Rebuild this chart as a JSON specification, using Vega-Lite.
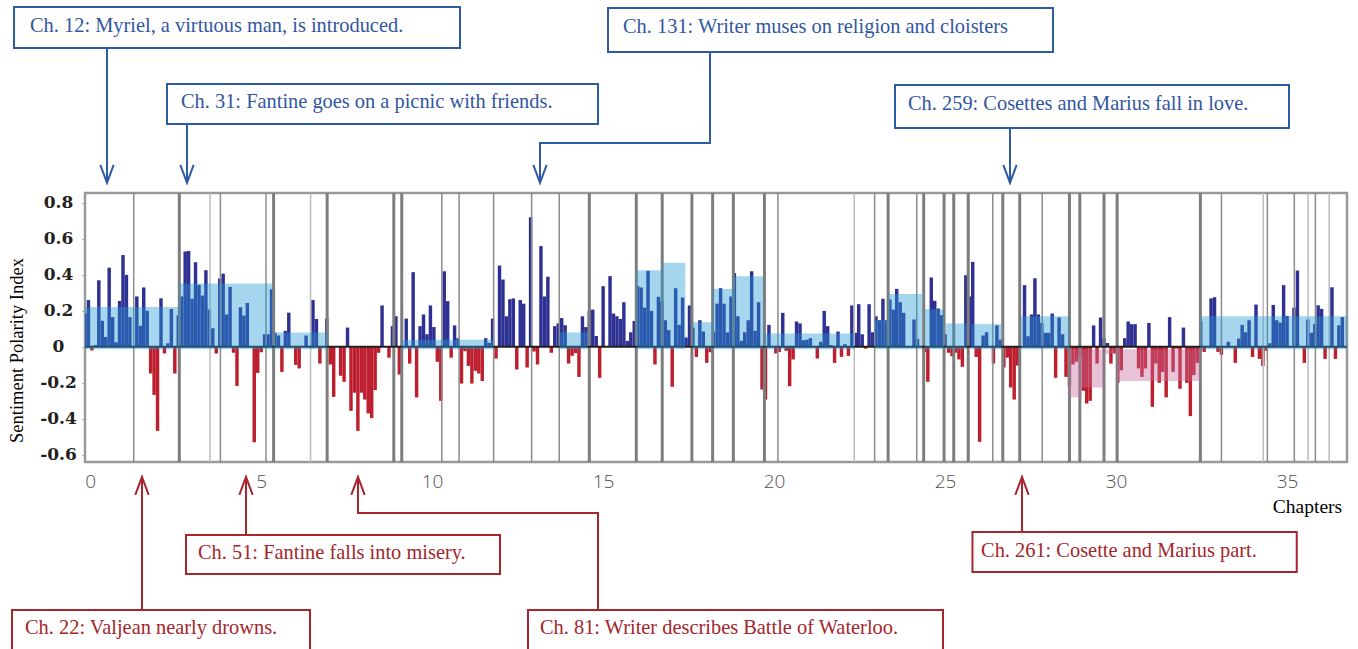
{
"$schema": "https://vega.github.io/schema/vega-lite/v6.json",
"width": 1262,
"height": 269,
"autosize": {"type": "none"},
"padding": {"left": 85, "top": 193, "right": 11, "bottom": 187},
"background": "white",
"config": {
  "view": {"stroke": "#9a9a9a", "strokeWidth": 2.5},
  "axis": {"grid": false, "domain": false},
  "axisY": {"labelOverlap": false, "tickCount": 12},
  "axisX": {"labelOverlap": false},
  "scale": {"continuousPadding": 0}
},
"datasets": {
"bars": [
{"c":1,"v":0.185},{"c":2,"v":0.26},{"c":3,"v":-0.02},{"c":4,"v":0.01},{"c":5,"v":0.37},{"c":6,"v":0.145},{"c":7,"v":0.055},{"c":8,"v":0.44},{"c":9,"v":0.165},{"c":10,"v":0.025},
{"c":11,"v":0.255},{"c":12,"v":0.51},{"c":13,"v":0.4},{"c":14,"v":0.165},{"c":15,"v":0},{"c":16,"v":0.28},{"c":17,"v":0.117},{"c":18,"v":0.33},{"c":19,"v":0.2},{"c":20,"v":-0.148},
{"c":21,"v":-0.267},{"c":22,"v":-0.467},{"c":23,"v":0.27},{"c":24,"v":-0.037},{"c":25,"v":0.02},{"c":26,"v":0.21},{"c":27,"v":-0.148},{"c":28,"v":0.175},{"c":29,"v":0.28},{"c":30,"v":0.53},
{"c":31,"v":0.533},{"c":32,"v":0.267},{"c":33,"v":0.47},{"c":34,"v":0.345},{"c":35,"v":0.285},{"c":36,"v":0.426},{"c":37,"v":0.207},{"c":38,"v":0.104},{"c":39,"v":-0.037},{"c":40,"v":0.38},
{"c":41,"v":0.407},{"c":42,"v":0.18},{"c":43,"v":0.333},{"c":44,"v":-0.033},{"c":45,"v":-0.217},{"c":46,"v":0.22},{"c":47,"v":0.174},{"c":48,"v":0.244},{"c":49,"v":0},{"c":50,"v":-0.53},
{"c":51,"v":-0.145},{"c":52,"v":-0.03},{"c":53,"v":0.07},{"c":54,"v":0.07},{"c":55,"v":0.32},{"c":56,"v":0.078},{"c":57,"v":0.063},{"c":58,"v":-0.139},{"c":59,"v":0.089},{"c":60,"v":0.19},
{"c":61,"v":0},{"c":62,"v":-0.1},{"c":63,"v":-0.12},{"c":64,"v":0},{"c":65,"v":0.063},{"c":66,"v":0},{"c":67,"v":0.26},{"c":68,"v":0.155},{"c":69,"v":-0.093},{"c":70,"v":0},
{"c":71,"v":0.157},{"c":72,"v":-0.098},{"c":73,"v":-0.278},{"c":74,"v":0},{"c":75,"v":-0.16},{"c":76,"v":-0.194},{"c":77,"v":0.107},{"c":78,"v":-0.356},{"c":79,"v":-0.255},{"c":80,"v":-0.467},
{"c":81,"v":-0.255},{"c":82,"v":-0.293},{"c":83,"v":-0.37},{"c":84,"v":-0.396},{"c":85,"v":-0.24},{"c":86,"v":-0.033},{"c":87,"v":0.23},{"c":88,"v":0},{"c":89,"v":-0.06},{"c":90,"v":0.115},
{"c":91,"v":0.17},{"c":92,"v":-0.154},{"c":93,"v":0},{"c":94,"v":0.157},{"c":95,"v":-0.093},{"c":96,"v":0.415},{"c":97,"v":-0.281},{"c":98,"v":0.115},{"c":99,"v":0.18},{"c":100,"v":0.07},
{"c":101,"v":0.23},{"c":102,"v":0.11},{"c":103,"v":-0.083},{"c":104,"v":-0.3},{"c":105,"v":0.42},{"c":106,"v":0.254},{"c":107,"v":-0.06},{"c":108,"v":0.119},{"c":109,"v":0.048},{"c":110,"v":-0.204},
{"c":111,"v":-0.024},{"c":112,"v":-0.106},{"c":113,"v":-0.204},{"c":114,"v":-0.133},{"c":115,"v":-0.148},{"c":116,"v":-0.19},{"c":117,"v":0.048},{"c":118,"v":0.022},{"c":119,"v":0.157},{"c":120,"v":-0.065},
{"c":121,"v":0.452},{"c":122,"v":0.374},{"c":123,"v":0.17},{"c":124,"v":0.265},{"c":125,"v":0.269},{"c":126,"v":-0.126},{"c":127,"v":0.26},{"c":128,"v":0.24},{"c":129,"v":-0.115},{"c":130,"v":0.72},
{"c":131,"v":-0.026},{"c":132,"v":-0.098},{"c":133,"v":0.56},{"c":134,"v":0.28},{"c":135,"v":0.39},{"c":136,"v":-0.033},{"c":137,"v":0.115},{"c":138,"v":0.13},{"c":139,"v":0.16},{"c":140,"v":0.12},
{"c":141,"v":-0.093},{"c":142,"v":-0.05},{"c":143,"v":-0.035},{"c":144,"v":-0.167},{"c":145,"v":0.17},{"c":146,"v":0.11},{"c":147,"v":0.2},{"c":148,"v":0.207},{"c":149,"v":0.06},{"c":150,"v":-0.172},
{"c":151,"v":0.337},{"c":152,"v":0},{"c":153,"v":0.393},{"c":154,"v":0.185},{"c":155,"v":0.17},{"c":156,"v":0.155},{"c":157,"v":0.248},{"c":158,"v":0.033},{"c":159,"v":0.081},{"c":160,"v":0.144},
{"c":161,"v":0.337},{"c":162,"v":0.33},{"c":163,"v":0.218},{"c":164,"v":0.422},{"c":165,"v":0.2},{"c":166,"v":-0.098},{"c":167,"v":0.278},{"c":168,"v":0.252},{"c":169,"v":0.148},{"c":170,"v":0.093},
{"c":171,"v":-0.222},{"c":172,"v":0.326},{"c":173,"v":0.122},{"c":174,"v":0.274},{"c":175,"v":0.052},{"c":176,"v":0.23},{"c":177,"v":0.107},{"c":178,"v":-0.056},{"c":179,"v":0.148},{"c":180,"v":0.085},
{"c":181,"v":-0.089},{"c":182,"v":-0.03},{"c":183,"v":0.085},{"c":184,"v":0.24},{"c":185,"v":0.326},{"c":186,"v":0.24},{"c":187,"v":0.08},{"c":188,"v":0.28},{"c":189,"v":0.41},{"c":190,"v":0.17},
{"c":191,"v":0.033},{"c":192,"v":0.081},{"c":193,"v":0.148},{"c":194,"v":0.42},{"c":195,"v":0.089},{"c":196,"v":0.248},{"c":197,"v":-0.237},{"c":198,"v":-0.293},{"c":199,"v":0.122},{"c":200,"v":0},
{"c":201,"v":-0.037},{"c":202,"v":-0.028},{"c":203,"v":0.189},{"c":204,"v":-0.022},{"c":205,"v":-0.219},{"c":206,"v":-0.07},{"c":207,"v":0.141},{"c":208,"v":0.13},{"c":209,"v":0.037},{"c":210,"v":0.04},
{"c":211,"v":0.048},{"c":212,"v":0},{"c":213,"v":-0.065},{"c":214,"v":0.028},{"c":215,"v":0.2},{"c":216,"v":0.115},{"c":217,"v":0.01},{"c":218,"v":-0.089},{"c":219,"v":0.085},{"c":220,"v":-0.056},
{"c":221,"v":0.015},{"c":222,"v":-0.05},{"c":223,"v":0.23},{"c":224,"v":0.078},{"c":225,"v":0.237},{"c":226,"v":0.07},{"c":227,"v":-0.01},{"c":228,"v":0.237},{"c":229,"v":0.081},{"c":230,"v":0.17},
{"c":231,"v":0.148},{"c":232,"v":0.267},{"c":233,"v":0.148},{"c":234,"v":0.263},{"c":235,"v":0.207},{"c":236,"v":0.322},{"c":237,"v":0.248},{"c":238,"v":0.189},{"c":239,"v":0},{"c":240,"v":0},
{"c":241,"v":0.152},{"c":242,"v":0.044},{"c":243,"v":0},{"c":244,"v":-0.03},{"c":245,"v":-0.194},{"c":246,"v":0.385},{"c":247,"v":0.256},{"c":248,"v":0.213},{"c":249,"v":0.176},{"c":250,"v":0.07},
{"c":251,"v":-0.033},{"c":252,"v":-0.052},{"c":253,"v":-0.033},{"c":254,"v":-0.07},{"c":255,"v":-0.111},{"c":256,"v":0.398},{"c":257,"v":0.28},{"c":258,"v":0.472},{"c":259,"v":-0.056},{"c":260,"v":-0.528},
{"c":261,"v":0.063},{"c":262,"v":0.081},{"c":263,"v":0},{"c":264,"v":-0.093},{"c":265,"v":0.119},{"c":266,"v":0.04},{"c":267,"v":-0.115},{"c":268,"v":-0.06},{"c":269,"v":-0.226},{"c":270,"v":-0.293},
{"c":271,"v":-0.104},{"c":272,"v":0},{"c":273,"v":0.343},{"c":274,"v":0.059},{"c":275,"v":0.18},{"c":276,"v":0.381},{"c":277,"v":0.18},{"c":278,"v":0.133},{"c":279,"v":0.078},{"c":280,"v":0.078},
{"c":281,"v":0.185},{"c":282,"v":-0.172},{"c":283,"v":0.163},{"c":284,"v":0.07},{"c":285,"v":-0.167},{"c":286,"v":-0.219},{"c":287,"v":-0.098},{"c":288,"v":-0.083},{"c":289,"v":-0.06},{"c":290,"v":-0.244},
{"c":291,"v":-0.315},{"c":292,"v":-0.3},{"c":293,"v":0.119},{"c":294,"v":-0.093},{"c":295,"v":0.163},{"c":296,"v":0.048},{"c":297,"v":0.022},{"c":298,"v":-0.093},{"c":299,"v":-0.037},{"c":300,"v":-0.2},
{"c":301,"v":-0.13},{"c":302,"v":0.048},{"c":303,"v":0.141},{"c":304,"v":0.126},{"c":305,"v":0.126},{"c":306,"v":-0.12},{"c":307,"v":-0.167},{"c":308,"v":-0.12},{"c":309,"v":0.133},{"c":310,"v":-0.333},
{"c":311,"v":-0.093},{"c":312,"v":-0.2},{"c":313,"v":-0.139},{"c":314,"v":-0.281},{"c":315,"v":0.165},{"c":316,"v":-0.139},{"c":317,"v":-0.01},{"c":318,"v":-0.233},{"c":319,"v":0.107},{"c":320,"v":-0.2},
{"c":321,"v":-0.385},{"c":322,"v":-0.157},{"c":323,"v":-0.089},{"c":324,"v":0.143},{"c":325,"v":-0.028},{"c":326,"v":0},{"c":327,"v":0.269},{"c":328,"v":0.276},{"c":329,"v":-0.028},{"c":330,"v":-0.044},
{"c":331,"v":0},{"c":332,"v":0.028},{"c":333,"v":0},{"c":334,"v":-0.089},{"c":335,"v":0.046},{"c":336,"v":0.122},{"c":337,"v":0.081},{"c":338,"v":0.148},{"c":339,"v":-0.056},{"c":340,"v":0.235},
{"c":341,"v":-0.067},{"c":342,"v":-0.106},{"c":343,"v":-0.022},{"c":344,"v":0.02},{"c":345,"v":0.233},{"c":346,"v":0.148},{"c":347,"v":0.135},{"c":348,"v":0.343},{"c":349,"v":0.172},{"c":350,"v":0},
{"c":351,"v":0.218},{"c":352,"v":0.424},{"c":353,"v":0},{"c":354,"v":-0.089},{"c":355,"v":0.152},{"c":356,"v":0.078},{"c":357,"v":0.126},{"c":358,"v":0.231},{"c":359,"v":0.211},{"c":360,"v":-0.067},
{"c":361,"v":0},{"c":362,"v":0.331},{"c":363,"v":-0.067},{"c":364,"v":0.12},{"c":365,"v":0.165}
],
"dividers": [
{"c":15.1,"k":"m"},{"c":28.3,"k":"B"},{"c":37.2,"k":"l"},{"c":40.2,"k":"m"},{"c":53.4,"k":"m"},{"c":55.6,"k":"B"},{"c":66.3,"k":"l"},{"c":71.1,"k":"B"},{"c":90.4,"k":"B"},{"c":92.7,"k":"B"},
{"c":104.3,"k":"m"},{"c":109.3,"k":"m"},{"c":119.3,"k":"m"},{"c":130.3,"k":"m"},{"c":138.3,"k":"m"},{"c":147.0,"k":"B"},{"c":160.6,"k":"B"},{"c":168.1,"k":"B"},{"c":176.7,"k":"B"},{"c":182.7,"k":"B"},
{"c":188.7,"k":"B"},{"c":197.7,"k":"B"},{"c":201.6,"k":"m"},{"c":223.7,"k":"l"},{"c":229.6,"k":"m"},{"c":233.5,"k":"B"},{"c":241.8,"k":"m"},{"c":243.8,"k":"B"},{"c":249.7,"k":"B"},{"c":252.5,"k":"B"},
{"c":256.7,"k":"B"},{"c":263.8,"k":"m"},{"c":266.7,"k":"B"},{"c":271.6,"k":"B"},{"c":278.1,"k":"m"},{"c":286.0,"k":"B"},{"c":289.0,"k":"B"},{"c":296.0,"k":"B"},{"c":299.8,"k":"B"},{"c":323.9,"k":"B"},
{"c":330.0,"k":"m"},{"c":342.1,"k":"l"},{"c":343.3,"k":"m"},{"c":351.1,"k":"m"},{"c":355.1,"k":"l"},{"c":357.2,"k":"m"},{"c":361.2,"k":"l"}
],
"means": [
{"c":0.5,"c2":28.3,"v":0.222},{"c":28.3,"c2":55.3,"v":0.352},{"c":55.6,"c2":71.1,"v":0.08},{"c":92.7,"c2":119.3,"v":0.04},{"c":138.3,"c2":146.5,"v":0.08},
{"c":160.6,"c2":168.1,"v":0.426},{"c":168.1,"c2":174.8,"v":0.467},{"c":176.9,"c2":182.5,"v":0.137},{"c":182.7,"c2":188.7,"v":0.322},{"c":188.7,"c2":197.3,"v":0.393},
{"c":197.7,"c2":223.7,"v":0.074},{"c":229.6,"c2":233.5,"v":0.148},{"c":233.6,"c2":243.3,"v":0.293},{"c":244.1,"c2":249.8,"v":0.209},{"c":250.2,"c2":256.3,"v":0.13},
{"c":257.5,"c2":266.3,"v":0.126},{"c":271.9,"c2":286.0,"v":0.17},{"c":286.0,"c2":289.6,"v":-0.281},{"c":289.6,"c2":295.8,"v":-0.226},{"c":296.0,"c2":299.8,"v":-0.037},
{"c":299.8,"c2":323.9,"v":-0.19},{"c":323.9,"c2":366.5,"v":0.17}
],
"boxes": [
{"g":"t","c":-19.55,"c2":109.56,"v":1.889,"v2":1.661},
{"g":"t","c":24.74,"c2":149.52,"v":1.461,"v2":1.238},
{"g":"t","c":152.41,"c2":281.24,"v":1.883,"v2":1.639},
{"g":"t","c":235.5,"c2":349.56,"v":1.455,"v2":1.216},
{"g":"b","c":-20.13,"c2":66.14,"v":-1.463,"v2":-1.72},
{"g":"b","c":30.24,"c2":121.14,"v":-1.046,"v2":-1.263},
{"g":"b","c":129.25,"c2":249.39,"v":-1.463,"v2":-1.72},
{"g":"b","c":257.92,"c2":351.8,"v":-1.029,"v2":-1.252}
],
"labels": [
{"g":"t","c":-14.92,"v":1.75,"t":"Ch. 12: Myriel, a virtuous man, is introduced."},
{"g":"t","c":28.79,"v":1.327,"t":"Ch. 31: Fantine goes on a picnic with friends."},
{"g":"t","c":156.75,"v":1.744,"t":"Ch. 131: Writer muses on religion and cloisters"},
{"g":"t","c":239.26,"v":1.316,"t":"Ch. 259: Cosettes and Marius fall in love."},
{"g":"b","c":-16.37,"v":-1.596,"t":"Ch. 22: Valjean nearly drowns."},
{"g":"b","c":33.71,"v":-1.179,"t":"Ch. 51: Fantine falls into misery."},
{"g":"b","c":132.72,"v":-1.596,"t":"Ch. 81: Writer describes Battle of Waterloo."},
{"g":"b","c":260.4,"v":-1.168,"t":"Ch. 261: Cosette and Marius part."}
],
"arrows": [
{"id":"a","g":"t","o":1,"c":7.37,"v":1.661},{"id":"a","g":"t","o":2,"c":7.37,"v":0.911},
{"id":"b","g":"t","o":1,"c":30.53,"v":1.238},{"id":"b","g":"t","o":2,"c":30.53,"v":0.911},
{"id":"c","g":"t","o":1,"c":181.94,"v":1.639},{"id":"c","g":"t","o":2,"c":181.94,"v":1.133},{"id":"c","g":"t","o":3,"c":132.72,"v":1.133},{"id":"c","g":"t","o":4,"c":132.72,"v":0.911},
{"id":"d","g":"t","o":1,"c":268.79,"v":1.216},{"id":"d","g":"t","o":2,"c":268.79,"v":0.911},
{"id":"e","g":"b","o":1,"c":17.5,"v":-1.463},{"id":"e","g":"b","o":2,"c":17.5,"v":-0.723},
{"id":"f","g":"b","o":1,"c":47.61,"v":-1.046},{"id":"f","g":"b","o":2,"c":47.61,"v":-0.723},
{"id":"h","g":"b","o":1,"c":149.52,"v":-1.463},{"id":"h","g":"b","o":2,"c":149.52,"v":-0.923},{"id":"h","g":"b","o":3,"c":80.03,"v":-0.923},{"id":"h","g":"b","o":4,"c":80.03,"v":-0.723},
{"id":"i","g":"b","o":1,"c":272.26,"v":-1.029},{"id":"i","g":"b","o":2,"c":272.26,"v":-0.723}
],
"tips": [
{"g":"t","c":7.37,"v":0.911},{"g":"t","c":30.53,"v":0.911},{"g":"t","c":132.72,"v":0.911},{"g":"t","c":268.79,"v":0.911},
{"g":"b","c":17.5,"v":-0.723},{"g":"b","c":47.61,"v":-0.723},{"g":"b","c":80.03,"v":-0.723},{"g":"b","c":272.26,"v":-0.723}
]
},
"layer": [
{
  "data": {"name": "bars"},
  "mark": {"type": "bar", "size": 3.45, "clip": true},
  "encoding": {
    "x": {"field": "c", "type": "quantitative", "scale": {"domain": [1, 366.35], "nice": false, "zero": false, "padding": 0},
      "axis": {"title": "Chapters", "values": [2.476, 51.981, 101.486, 150.991, 200.496, 250.001, 299.506, 349.011], "tickCount": 40,
        "labelExpr": "format(round((datum.value - 2.476) / 9.901), 'd')",
        "ticks": false, "labelPadding": 10, "labelFont": "Open Sans", "labelFontWeight": 300, "labelFontSize": 19, "labelColor": "#505050",
        "titleFont": "Liberation Serif", "titleFontSize": 19.5, "titleFontWeight": "normal", "titleColor": "#000000",
        "titleX": 1222, "titleY": 44, "titleAlign": "center", "titleBaseline": "middle", "titleAnchor": "start"}},
    "y": {"field": "v", "type": "quantitative", "scale": {"domain": [-0.64, 0.855], "nice": false, "zero": false},
      "axis": {"title": "Sentiment Polarity Index", "values": [-0.6, -0.4, -0.2, 0, 0.2, 0.4, 0.6, 0.8], "tickCount": 12,
        "labelExpr": "datum.value == 0 ? '0' : (datum.value < 0 ? '-' : '') + format(abs(datum.value), '.1f')",
        "labelOverlap": false, "labelBound": false,
        "ticks": true, "tickSize": 3, "tickColor": "#999999", "labelPadding": 24, "labelAlign": "center", "labelBaseline": "middle",
        "labelFont": "DejaVu Serif", "labelFontWeight": "bold", "labelFontSize": 17, "labelColor": "#231f20",
        "titleFont": "Liberation Serif", "titleFontSize": 18.5, "titleFontWeight": "normal", "titleColor": "#000000",
        "titleX": -69, "titleY": 157, "titleAngle": 270, "titleAlign": "center", "titleBaseline": "middle", "titleAnchor": "start"}},
    "y2": {"datum": 0},
    "color": {"condition": {"test": "datum.v > 0", "value": "#2e3192"}, "value": "#bd1f2e"}
  }
},
{
  "data": {"name": "dividers"},
  "mark": {"type": "rule", "clip": true},
  "encoding": {
    "x": {"field": "c", "type": "quantitative", "scale": {"domain": [1, 366.35], "nice": false, "zero": false, "padding": 0}},
    "color": {"condition": [{"test": "datum.k == 'B'", "value": "#7d7d7d"}, {"test": "datum.k == 'l'", "value": "#bdbdbd"}], "value": "#8c8c8c"},
    "strokeWidth": {"condition": {"test": "datum.k == 'B'", "value": 3}, "value": 1.5}
  }
},
{
  "data": {"values": [{}]},
  "mark": {"type": "rule", "color": "#231f20", "strokeWidth": 2},
  "encoding": {"y": {"datum": 0, "type": "quantitative", "scale": {"domain": [-0.64, 0.855], "nice": false, "zero": false}}}
},
{
  "data": {"name": "means"},
  "mark": {"type": "rect", "clip": true, "opacity": 0.41},
  "encoding": {
    "x": {"field": "c", "type": "quantitative", "scale": {"domain": [1, 366.35], "nice": false, "zero": false, "padding": 0}},
    "x2": {"field": "c2"},
    "y": {"field": "v", "type": "quantitative", "scale": {"domain": [-0.64, 0.855], "nice": false, "zero": false}},
    "y2": {"datum": -0.013},
    "color": {"condition": {"test": "datum.v > 0", "value": "#2698d5"}, "value": "#c76c9b"}
  }
},
{
  "data": {"name": "arrows"},
  "mark": {"type": "line", "strokeWidth": 2, "clip": false},
  "encoding": {
    "x": {"field": "c", "type": "quantitative", "scale": {"domain": [1, 366.35], "nice": false, "zero": false, "padding": 0}},
    "y": {"field": "v", "type": "quantitative", "scale": {"domain": [-0.64, 0.855], "nice": false, "zero": false}},
    "detail": {"field": "id"},
    "order": {"field": "o", "type": "quantitative"},
    "color": {"condition": {"test": "datum.g == 't'", "value": "#2f5aa6"}, "value": "#a8262d"}
  }
},
{
  "data": {"name": "tips"},
  "mark": {"type": "point", "filled": false, "size": 1296, "strokeWidth": 2, "opacity": 1, "clip": false},
  "encoding": {
    "x": {"field": "c", "type": "quantitative", "scale": {"domain": [1, 366.35], "nice": false, "zero": false, "padding": 0}},
    "y": {"field": "v", "type": "quantitative", "scale": {"domain": [-0.64, 0.855], "nice": false, "zero": false}},
    "shape": {"condition": {"test": "datum.g == 't'", "value": "M-0.37,-1L0,0L0.37,-1"}, "value": "M-0.37,1L0,0L0.37,1"},
    "color": {"condition": {"test": "datum.g == 't'", "value": "#2f5aa6"}, "value": "#a8262d"}
  }
},
{
  "data": {"name": "boxes"},
  "mark": {"type": "rect", "fill": "white", "strokeWidth": 2, "clip": false},
  "encoding": {
    "x": {"field": "c", "type": "quantitative", "scale": {"domain": [1, 366.35], "nice": false, "zero": false, "padding": 0}},
    "x2": {"field": "c2"},
    "y": {"field": "v", "type": "quantitative", "scale": {"domain": [-0.64, 0.855], "nice": false, "zero": false}},
    "y2": {"field": "v2"},
    "stroke": {"condition": {"test": "datum.g == 't'", "value": "#2f5aa6"}, "value": "#a8262d"}
  }
},
{
  "data": {"name": "labels"},
  "mark": {"type": "text", "align": "left", "baseline": "alphabetic", "font": "Liberation Serif", "fontSize": 20.4, "clip": false},
  "encoding": {
    "x": {"field": "c", "type": "quantitative", "scale": {"domain": [1, 366.35], "nice": false, "zero": false, "padding": 0}},
    "y": {"field": "v", "type": "quantitative", "scale": {"domain": [-0.64, 0.855], "nice": false, "zero": false}},
    "text": {"field": "t"},
    "color": {"condition": {"test": "datum.g == 't'", "value": "#32569e"}, "value": "#a4262c"}
  }
}
]
}
